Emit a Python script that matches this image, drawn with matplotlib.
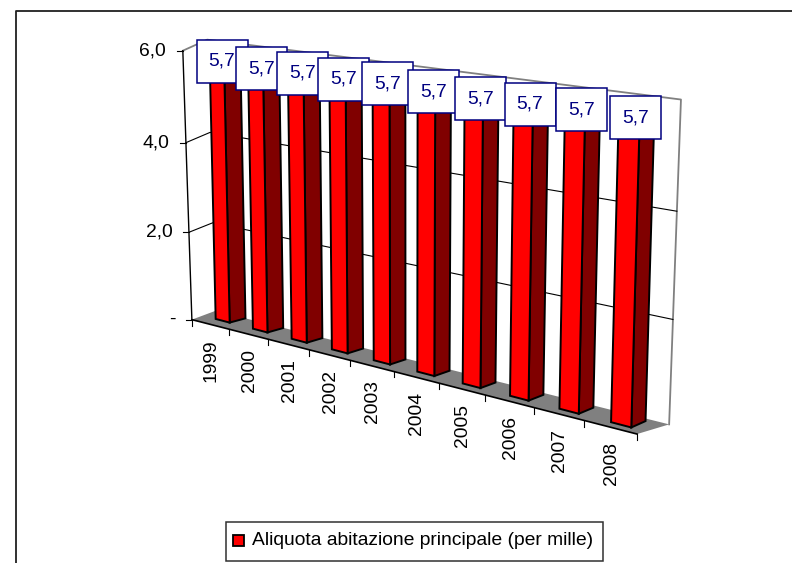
import matplotlib
matplotlib.use('Agg')
import matplotlib.pyplot as plt
from matplotlib.patches import Polygon, Rectangle
import numpy as np

plt.rcParams['font.family'] = ['Liberation Sans', 'DejaVu Sans']

years = ['1999', '2000', '2001', '2002', '2003', '2004', '2005', '2006', '2007', '2008']
values = [5.7, 5.7, 5.7, 5.7, 5.7, 5.7, 5.7, 5.7, 5.7, 5.7]
value_labels = ['5,7'] * 10
y_ticks = [0, 2, 4, 6]
y_tick_labels = ['-', '2,0', '4,0', '6,0']
legend_label = 'Aliquota abitazione principale (per mille)'

RED = '#ff0000'
DARK = '#800000'
GREY = '#808080'
NAVY = '#000080'
FS = 13.9

# perspective calibration: (category, depth, value) -> pixel
cube = [(0, 0, 0), (0, 0, 6), (0, 1, 0), (0, 1, 6), (10, 0, 0), (10, 1, 0), (10, 1, 6)]
cube_px = [(192, 319), (184, 49), (215, 312), (206, 41), (636, 435), (671, 421), (681, 100)]
tick_px_x = [230, 268, 309, 351, 393, 438, 485, 534, 584]
for i, u in enumerate(tick_px_x):
    cube.append((i+1, 0, 0))
    cube_px.append((u, 319+0.2613*(u-192)))

# the bars do not sit quite on the same perspective as the box, so they get their own
bw = 0.38
bar_left_px = [(216, 318), (253, 328), (291, 338), (332, 349), (373, 360),
               (417, 372), (462, 384), (510, 397), (559, 409), (609, 422)]
bar_mid_px = [(230, 323), (267, 333), (307, 342), (349, 354), (392, 365),
              (435, 377), (482, 389), (528, 401), (579, 414), (631, 427)]
bar_right_px = [(244, 318), (283, 327), (322, 337), (363, 348), (406, 359),
                (450, 371), (496, 383), (543, 396), (594, 408), (645, 420)]
bar_pts, bar_uv = [], []
for i in range(10):
    bar_pts += [(i, 0, 0), (i+bw, 0, 0), (i+bw, 1, 0)]
    bar_uv += [bar_left_px[i], bar_mid_px[i], bar_right_px[i]]
# edges where they go under the labels
bar_pts += [(0, 0, 5.2), (bw, 0, 5.2), (bw, 1, 5.2), (4, 0, 5.2), (4+bw, 0, 5.2), (4+bw, 1, 5.2),
            (9, 0, 5.2), (9+bw, 0, 5.2), (9+bw, 1, 5.2)]
bar_uv += [(209, 83), (225, 83), (240, 83), (372, 105), (391, 105), (407, 105),
           (618, 139), (638, 139), (654, 139)]

# the labels are not placed quite regularly in the original (px from the bar top centre)
label_nudge_x = [-3, -2, -1, -2, -1, -1, -1, -1, -1, -1]
label_nudge_y = [3, 6, 5, 6, 5, 7, 8, 7, 6, 7]


def fit(pts, uv):
    A = []
    b = []
    for (x, d, v), (u, w) in zip(pts, uv):
        A.append([x, d, v, 1, 0, 0, 0, 0, -u*x, -u*d, -u*v])
        A.append([0, 0, 0, 0, x, d, v, 1, -w*x, -w*d, -w*v])
        b += [u, w]
    sol = np.linalg.lstsq(np.array(A, float), np.array(b, float), rcond=None)[0]
    return np.append(sol, 1).reshape(3, 4)


P = fit(cube, cube_px)
PB = fit(bar_pts, bar_uv)


def proj(x, d, v, M=P):
    p = M @ np.array([x, d, v, 1.])
    return p[0]/p[2], p[1]/p[2]


fig = plt.figure(figsize=(7.92, 5.63), dpi=100)
ax = fig.add_axes([0, 0, 1, 1])
ax.set_xlim(0, 792)
ax.set_ylim(563, 0)
ax.axis('off')

# figure frame, bottom and right are cut off in the original
ax.plot([16, 16, 792], [563, 10.5, 10.5], color='#202020', lw=1.3, zorder=1)

xmax = len(years)

# walls
ax.plot(*zip(proj(0, 0, 6), proj(0, 1, 6), proj(xmax, 1, 6), proj(xmax, 1, 0)),
        color=GREY, lw=1.3, zorder=2)

# gridlines on side and back wall
for t in y_ticks[1:3]:
    ax.plot(*zip(proj(0, 0, t), proj(0, 1, t), proj(xmax, 1, t)), color='black', lw=0.8, zorder=2)

# floor
ax.add_patch(Polygon([proj(0, 0, 0), proj(0, 1, 0), proj(xmax, 1, 0), proj(xmax, 0, 0)],
                     fc=GREY, ec='none', zorder=3))
ax.plot(*zip(proj(0, 0, 0), proj(xmax, 0, 0)), color='black', lw=1.2, zorder=3)

# value axis
ax.plot(*zip(proj(0, 0, 0), proj(0, 0, 6)), color='black', lw=1.0, zorder=3)
for t, lab in zip(y_ticks, y_tick_labels):
    px = proj(0, 0, t)
    ax.plot([px[0]-6, px[0]], [px[1], px[1]], color='black', lw=0.8, zorder=3)
    ax.annotate(lab, px, xytext=(-12, 0), textcoords='offset points', ha='right', va='center',
                fontsize=FS, color='black')

# category ticks and labels
for i in range(xmax+1):
    px = proj(i, 0, 0)
    ax.plot([px[0], px[0]], [px[1], px[1]+6], color='black', lw=0.8, zorder=3)
for i, y in enumerate(years):
    px = proj(i+0.5, 0, 0)
    ax.annotate(y, px, xytext=(0.7, -10.5), textcoords='offset points', ha='center', va='top',
                rotation=90, fontsize=FS, color='black')

# bars
for i, val in enumerate(values):
    xl, xr = i, i+bw
    front = [proj(xl, 0, 0, PB), proj(xr, 0, 0, PB), proj(xr, 0, val, PB), proj(xl, 0, val, PB)]
    side = [proj(xr, 0, 0, PB), proj(xr, 1, 0, PB), proj(xr, 1, val, PB), proj(xr, 0, val, PB)]
    ax.add_patch(Polygon(side, fc=DARK, ec='black', lw=1.4, zorder=4))
    ax.add_patch(Polygon(front, fc=RED, ec='black', lw=1.4, zorder=4))

# data labels sit on the middle of the bar top
box_w, box_h = 51, 43
for i, (val, lab) in enumerate(zip(values, value_labels)):
    cx, cy = proj(i+bw/2, 0.5, val, PB)
    cx += label_nudge_x[i]
    cy += label_nudge_y[i]
    ax.add_patch(Rectangle((cx-box_w/2, cy-box_h/2), box_w, box_h, fc='white', ec=NAVY, lw=1.1, zorder=5+i))
    ax.text(cx, cy, lab, ha='center', va='center', fontsize=FS, color=NAVY, zorder=5+i)

# legend
ax.add_patch(Rectangle((226, 522), 377, 39, fc='white', ec='#303030', lw=1.1, zorder=20))
ax.add_patch(Rectangle((233, 535), 11, 11, fc=RED, ec='black', lw=1.3, zorder=21))
ax.text(251.5, 540.5, legend_label, ha='left', va='center', fontsize=FS, color='black', zorder=21)

fig.savefig('out.png', dpi=100)
